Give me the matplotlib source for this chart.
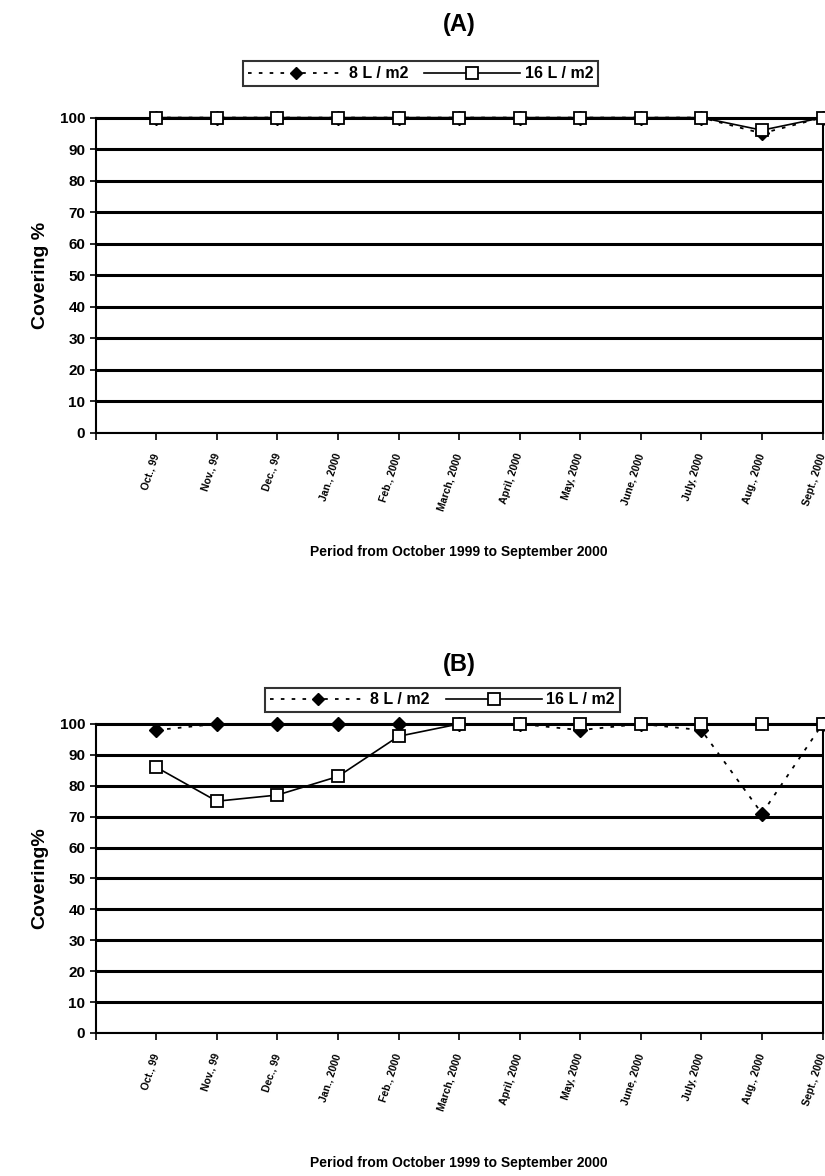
import numpy as np
import matplotlib.pyplot as plt

plt.rcParams['font.family'] = ['Liberation Sans', 'DejaVu Sans']
plt.rcParams['font.weight'] = 'bold'

months = ["Oct., 99", "Nov., 99", "Dec., 99", "Jan., 2000", "Feb., 2000", "March, 2000",
          "April, 2000", "May, 2000", "June, 2000", "July, 2000", "Aug., 2000", "Sept., 2000"]

# Panel A
a_8 = [100, 100, 100, 100, 100, 100, 100, 100, 100, 100, 95, 100]
a_16 = [100, 100, 100, 100, 100, 100, 100, 100, 100, 100, 96, 100]

# Panel B
b_8 = [98, 100, 100, 100, 100, 100, 100, 98, 100, 98, 71, 100]
b_16 = [86, 75, 77, 83, 96, 100, 100, 100, 100, 100, 100, 100]

fig = plt.figure(figsize=(8.25, 11.76), dpi=100)

# title, series, y label, axes rect, title pad, legend y, legend x, xlabel pad
panels = [
    ("(A)", a_8, a_16, "Covering %", [0.116, 0.632, 0.881, 0.268], 62, 1.075, 0.447, 24),
    ("(B)", b_8, b_16, "Covering%", [0.116, 0.1216, 0.881, 0.2628], 38, 1.012, 0.477, 32),
]

x = np.arange(1, len(months) + 1)

for title, s8, s16, ylab, rect, tpad, ly, lx, xpad in panels:
    ax = fig.add_axes(rect)
    l8, = ax.plot(x, s8, color='black', linestyle=(0, (2, 4)), linewidth=1.3,
                  marker='D', markersize=7, markerfacecolor='black',
                  markeredgecolor='black', clip_on=False, zorder=3)
    l16, = ax.plot(x, s16, color='black', linestyle='-', linewidth=1.2,
                   marker='s', markersize=9, markerfacecolor='white',
                   markeredgecolor='black', markeredgewidth=1.3, clip_on=False, zorder=4)
    ax.set_xlim(0, 12)
    ax.set_ylim(0, 100)
    ax.set_yticks(range(0, 101, 10))
    ax.yaxis.grid(True, color='black', linewidth=2.2)
    ax.set_axisbelow(True)
    ax.set_xticks(range(0, 13))
    ax.set_xticklabels([""] + months, rotation=72, ha='right', va='center',
                       rotation_mode='anchor', fontsize=7.5, fontweight='bold')
    ax.tick_params(axis='x', length=5, width=1.2, pad=10)
    ax.tick_params(axis='y', length=4, width=1.2, labelsize=11)
    for lbl in ax.get_yticklabels():
        lbl.set_fontweight('bold')
    for sp in ax.spines.values():
        sp.set_linewidth(1.5)
    ax.set_ylabel(ylab, fontsize=14, fontweight='bold', labelpad=8)
    ax.set_xlabel("Period from October 1999 to September 2000", fontsize=10,
                  fontweight='bold', labelpad=xpad)
    ax.set_title(title, fontsize=17, fontweight='bold', pad=tpad)
    leg = ax.legend([l8, l16], ["8 L / m2", "16 L / m2"], ncol=2,
                    loc='lower center', bbox_to_anchor=(lx, ly),
                    frameon=True, fancybox=False, edgecolor='black',
                    fontsize=11.5, handlelength=6, columnspacing=1.0,
                    handletextpad=0.3, borderpad=0.3, markerscale=0.9)
    leg.get_frame().set_linewidth(1.5)
    for t in leg.get_texts():
        t.set_fontweight('bold')

fig.savefig("out.png", dpi=100)
